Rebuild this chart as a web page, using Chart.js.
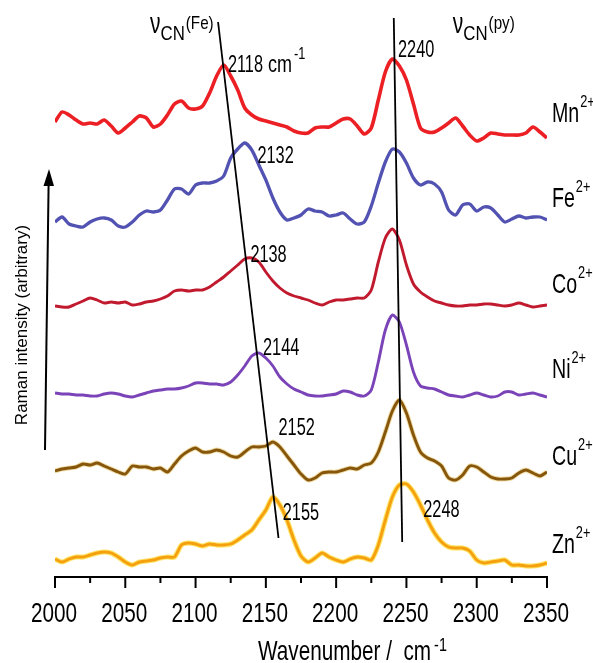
<!DOCTYPE html>
<html>
<head>
<meta charset="utf-8">
<script src="https://cdn.jsdelivr.net/npm/chart.js@4.4.1/dist/chart.umd.min.js"></script>
<style>
  html, body { margin: 0; padding: 0; background: #fff; }
  canvas { display: block; }
</style>
</head>
<body>
<canvas id="ramanChart" width="593" height="663"></canvas>
<script>
// =================== DATA ===================
const wavenumbers = [
  2000, 2005, 2010, 2015, 2020, 2025, 2030, 2035, 2040, 2045,
  2050, 2055, 2060, 2065, 2070, 2075, 2080, 2085, 2090, 2095,
  2100, 2105, 2110, 2115, 2120, 2125, 2130, 2135, 2140, 2145,
  2150, 2155, 2160, 2165, 2170, 2175, 2180, 2185, 2190, 2195,
  2200, 2205, 2210, 2215, 2220, 2225, 2230, 2235, 2240, 2245,
  2250, 2255, 2260, 2265, 2270, 2275, 2280, 2285, 2290, 2295,
  2300, 2305, 2310, 2315, 2320, 2325, 2330, 2335, 2340, 2345,
  2350
];

// stacked spectra (offset included, arbitrary units)
const mn = [
  455, 465, 462, 457, 453, 454, 453, 457, 451, 444,
  449, 455, 461, 459, 450, 453, 462, 473, 476, 469,
  468, 471, 484, 501, 512, 501, 487, 469, 462, 458,
  456, 454, 452, 450, 446, 444, 444, 449, 450, 450,
  454, 458, 458, 451, 443, 449, 477, 505, 518, 511,
  497, 473, 449, 445, 445, 449, 454, 459, 451, 442,
  436, 439, 444, 443, 442, 442, 442, 444, 450, 445,
  439
];
const fe = [
  355, 360, 353, 351, 350, 355, 358, 359, 357, 351,
  350, 355, 362, 366, 365, 367, 377, 388, 388, 383,
  392, 394, 394, 396, 401, 419, 428, 434, 427, 412,
  397, 379, 365, 357, 359, 362, 368, 366, 365, 361,
  362, 364, 358, 353, 355, 371, 394, 415, 428, 425,
  414, 399, 392, 395, 393, 385, 367, 362, 372, 373,
  366, 370, 369, 362, 355, 358, 361, 359, 360, 360,
  357
];
const co = [
  271, 270, 270, 273, 276, 279, 277, 274, 275, 274,
  275, 272, 273, 275, 276, 278, 281, 286, 287, 286,
  287, 287, 290, 295, 300, 306, 312, 318, 319, 315,
  305, 296, 289, 284, 281, 279, 277, 274, 272, 275,
  277, 277, 278, 279, 279, 287, 315, 339, 348, 337,
  312, 293, 285, 280, 276, 274, 272, 271, 271, 272,
  272, 273, 273, 272, 271, 272, 274, 272, 270, 271,
  272
];
const ni = [
  184, 183, 183, 182, 182, 181, 181, 183, 184, 183,
  181, 180, 182, 184, 186, 187, 188, 188, 189, 191,
  194, 194, 193, 193, 192, 195, 202, 211, 221, 224,
  219, 211, 200, 193, 188, 185, 182, 181, 181, 182,
  183, 186, 185, 182, 181, 187, 215, 247, 262, 255,
  232, 205, 191, 189, 188, 185, 182, 181, 180, 182,
  184, 182, 180, 181, 185, 185, 182, 183, 184, 182,
  180
];
const cu = [
  106, 108, 109, 110, 113, 112, 114, 111, 108, 105,
  103, 111, 110, 110, 108, 109, 105, 113, 121, 126,
  129, 125, 125, 127, 125, 121, 120, 125, 130, 130,
  131, 135, 130, 121, 112, 103, 97, 99, 104, 105,
  105, 107, 109, 108, 112, 114, 125, 145, 166, 177,
  164, 142, 125, 119, 116, 111, 99, 97, 102, 111,
  110, 105, 100, 98, 98, 99, 104, 107, 104, 101,
  105
];
const zn = [
  18, 15, 18, 20, 20, 22, 24, 25, 24, 20,
  15, 12, 15, 16, 17, 19, 20, 20, 32, 34,
  33, 31, 33, 32, 32, 33, 37, 42, 47, 57,
  67, 80, 72, 57, 37, 21, 15, 19, 24, 20,
  17, 15, 18, 20, 19, 17, 32, 57, 80, 92,
  93, 85, 72, 57, 44, 35, 30, 29, 29, 26,
  17, 14, 15, 16, 17, 12, 12, 11, 11, 12,
  14
];

const ions = ["Mn", "Fe", "Co", "Ni", "Cu", "Zn"];
const xTicks = [2000, 2050, 2100, 2150, 2200, 2250, 2300, 2350];

// peak shift guide lines (wavenumber, intensity)
const guideFeX = [2116, 2159];
const guideFeY = [555, 39];
const guidePyX = [2241, 2247];
const guidePyY = [559, 35];

// peak labels
const peakText = ["2118", "2240", "2132", "2138", "2144", "2152", "2155", "2248"];
const peakAtX = [2123, 2244, 2144, 2139, 2148, 2159, 2162, 2262];
const peakAtY = [505, 520, 414, 315, 222, 142, 57, 60];

// =================== STYLE ===================
const FONT = '"Liberation Sans", Arial, Helvetica, sans-serif';
const colors = ["#ec2024", "#5252b2", "#c1192d", "#7b43b8", "#86560c", "#f5a10f"];
const widths = [3.6, 3.3, 2.9, 2.9, 2.9, 2.9];
const ionLabelLevels = [455, 370, 284, 199, 112, 24];

function pts(xs, ys) {
  return xs.map((x, i) => ({ x: x, y: ys[i] }));
}

function drawText(ctx, str, x, y, size, sx, align) {
  ctx.save();
  ctx.font = size + "px " + FONT;
  ctx.textAlign = align || "left";
  ctx.textBaseline = "alphabetic";
  ctx.translate(x, y);
  ctx.scale(sx, 1);
  ctx.fillText(str, 0, 0);
  const w = ctx.measureText(str).width * sx;
  ctx.restore();
  return w;
}

// =================== DECORATION PLUGIN ===================
const decor = {
  id: "decor",
  afterDraw(chart) {
    const ctx = chart.ctx;
    const xs = chart.scales.x;
    const ys = chart.scales.y;
    const area = chart.chartArea;
    ctx.save();
    ctx.fillStyle = "#000";
    ctx.strokeStyle = "#000";

    // x ticks (major labelled, minor short)
    ctx.lineWidth = 2;
    xs.ticks.forEach((t) => {
      const px = xs.getPixelForValue(t.value);
      const major = xTicks.includes(t.value);
      ctx.beginPath();
      ctx.moveTo(px, area.bottom);
      ctx.lineTo(px, area.bottom + (major ? 11 : 6));
      ctx.stroke();
      if (major) drawText(ctx, String(t.value), px - 1, area.bottom + 45, 28, 0.74, "center");
    });

    // x title
    let w = drawText(ctx, "Wavenumber /  cm", 258, 660, 28, 0.74);
    drawText(ctx, "-1", 258 + w + 3, 651, 18, 0.8);

    // y title and arrow
    ctx.save();
    ctx.translate(22, 325);
    ctx.rotate(-Math.PI / 2);
    ctx.font = "17px " + FONT;
    ctx.textAlign = "center";
    ctx.textBaseline = "middle";
    ctx.fillText("Raman intensity (arbitrary)", 0, 0);
    ctx.restore();

    ctx.lineWidth = 2;
    ctx.beginPath();
    ctx.moveTo(45, 450);
    ctx.lineTo(48.6, 184);
    ctx.stroke();
    ctx.beginPath();
    ctx.moveTo(49, 169);
    ctx.lineTo(54, 186);
    ctx.lineTo(43.5, 186);
    ctx.closePath();
    ctx.fill();

    // ion labels on the right
    ions.forEach((ion, i) => {
      const py = ys.getPixelForValue(ionLabelLevels[i]);
      const lw = drawText(ctx, ion, area.right + 5, py, 28, 0.7);
      drawText(ctx, "2+", area.right + 5 + lw + 1, py - 15, 17, 0.75);
    });

    // peak labels
    peakText.forEach((txt, i) => {
      const px = xs.getPixelForValue(peakAtX[i]);
      const py = ys.getPixelForValue(peakAtY[i]);
      const lw = drawText(ctx, txt, px, py, 24, 0.68);
      if (i === 0) {
        const cw = drawText(ctx, " cm", px + lw, py, 24, 0.75);
        drawText(ctx, "-1", px + lw + cw + 2, py - 13, 16, 0.8);
      }
    });

    // nu_CN labels
    [["(Fe)", 2067.6], ["(py)", 2283]].forEach(([sup, wx]) => {
      const px = xs.getPixelForValue(wx);
      const py = ys.getPixelForValue(544);
      const nw = drawText(ctx, "\u03bd", px, py, 30, 0.7);
      const cw = drawText(ctx, "CN", px + nw, py + 7, 21, 0.8);
      drawText(ctx, sup, px + nw + cw + 1, py - 4, 19, 0.8);
    });

    ctx.restore();
  }
};

// =================== BUILD CHART ===================
const series = [mn, fe, co, ni, cu, zn];
const datasets = [
  { label: "guideFe", data: pts(guideFeX, guideFeY), borderColor: "#000", borderWidth: 1.8, pointRadius: 0, tension: 0, order: 0 },
  { label: "guidePy", data: pts(guidePyX, guidePyY), borderColor: "#000", borderWidth: 1.8, pointRadius: 0, tension: 0, order: 0 }
];
series.forEach((s, i) => {
  datasets.push({
    label: ions[i] + "2+",
    data: pts(wavenumbers, s),
    borderColor: colors[i],
    borderWidth: widths[i],
    pointRadius: 0,
    tension: 0.25,
    order: 1
  });
});
// soft halos seen round the Cu and Zn traces
datasets.push({ label: "cuHalo", data: pts(wavenumbers, cu), borderColor: "rgba(225,190,90,0.55)", borderWidth: 4.8, pointRadius: 0, tension: 0.25, order: 2 });
datasets.push({ label: "znHalo", data: pts(wavenumbers, zn), borderColor: "rgba(255,222,70,0.8)", borderWidth: 5.2, pointRadius: 0, tension: 0.25, order: 2 });

new Chart(document.getElementById("ramanChart"), {
  type: "line",
  data: { datasets: datasets },
  options: {
    responsive: false,
    animation: false,
    devicePixelRatio: 1,
    layout: { padding: { left: 55, right: 46, top: 0, bottom: 0 } },
    plugins: { legend: { display: false }, tooltip: { enabled: false } },
    scales: {
      x: {
        type: "linear",
        min: 2000,
        max: 2350,
        ticks: { stepSize: 25, color: "rgba(0,0,0,0)" },
        grid: { display: false },
        border: { display: true, color: "#000", width: 2 },
        afterFit(scale) { scale.height = 86; }
      },
      y: { display: false, min: 0, max: 577 }
    }
  },
  plugins: [decor]
});
</script>
</body>
</html>
